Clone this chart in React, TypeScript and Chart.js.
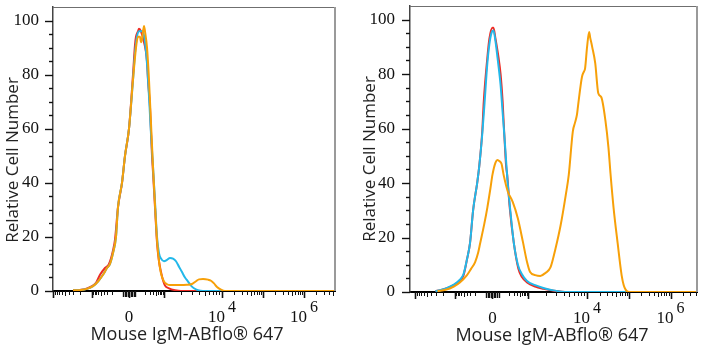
import React, { useEffect, useRef } from "react";
import { Chart, registerables } from "chart.js";

Chart.register(...registerables);

// ---- axis description (display units of the biexponential axis; 0 = zero) ----
const Y_LABEL_VALUES = [0, 20, 40, 60, 80, 100];
const Y_MINOR_VALUES = [5, 10, 15, 25, 30, 35, 45, 50, 55, 65, 70, 75, 85, 90, 95];
const X_MAJOR_TICKS = [-76, -37, 0, 35, 93, 134, 175];
const X_DECADE_FROM = [-37, -8, 8, 35, 93, 134, 175];
const X_DECADE_TO = [-76, -37, 35, 93, 134, 175, 216];
const X_LINEAR_BLOCK = [-6, -4.5, -3, -1.5, 1.5, 3, 4.5, 6];
const X_LABEL_POS = [0, 93, 175];
const X_LABEL_BASE = ["0", "10", "10"];
const X_LABEL_EXP = ["", "4", "6"];

const X_TITLE = "Mouse IgM-ABflo® 647";
const Y_TITLE = "Relative Cell Number";

// ---- left panel series: [axis position, relative count] ----
const LEFT_RED: [number, number][] = [
  [-56, 0.2], [-49, 0.4], [-44, 0.7], [-38, 1.6], [-33, 3], [-29, 6], [-24, 8.5], [-20, 10],
  [-16, 15], [-14, 19], [-11, 31], [-7, 40], [-4, 50], [0, 60], [4, 80], [6, 91], [7, 94],
  [9, 96], [10, 97], [12, 96], [15, 92], [18, 85], [19, 78], [21, 68], [23, 50], [24, 44],
  [26, 31], [28, 18], [30, 11], [32, 7], [34, 4], [36, 2], [40, 1], [46, 0.3], [52, 0], [206, 0],
];
const LEFT_CYAN: [number, number][] = [
  [-56, 0.3], [-48, 0.4], [-42, 0.8], [-36, 1.8], [-31, 3.5], [-26, 6], [-22, 8.5], [-19, 10],
  [-16, 14], [-13, 20], [-11, 31], [-7, 40], [-4, 50], [0, 60], [4, 78], [6, 88], [8, 94],
  [10, 96], [12, 96], [14, 96], [16, 92], [18, 84], [20, 72], [22, 58], [24, 46], [26, 33],
  [28, 20], [30, 14], [32, 12], [35, 11], [38, 11.5], [41, 12.2], [44, 12], [47, 11], [50, 9],
  [53, 7], [56, 5], [59, 3.5], [62, 2], [65, 1], [69, 0.3], [74, 0], [206, 0],
];
const LEFT_ORANGE: [number, number][] = [
  [-56, 0.3], [-48, 0.4], [-42, 0.8], [-36, 1.8], [-31, 3.5], [-26, 6], [-22, 8.5], [-19, 10],
  [-16, 14], [-13, 20], [-11, 31], [-7, 40], [-4, 50], [0, 60], [4, 78], [7, 90], [9, 94],
  [11, 94], [12, 92], [13, 93], [15, 98], [16, 96], [18, 90], [20, 78], [22, 62], [24, 46],
  [26, 32], [28, 19], [30, 11], [32, 6.5], [35, 3.5], [38, 2.5], [41, 2.2], [50, 2.2],
  [58, 2.3], [63, 2.6], [67, 3.6], [70, 4.3], [74, 4.4], [79, 4.2], [82, 3.8], [85, 2.8],
  [88, 1.5], [92, 0.5], [96, 0], [206, 0],
];

// ---- right panel series ----
const RIGHT_RED: [number, number][] = [
  [-56, 0.3], [-51, 0.7], [-44, 1.5], [-38, 2.5], [-32, 4.2], [-28.5, 6], [-25, 12], [-22, 18],
  [-19, 30], [-15, 40], [-13, 46], [-10, 59], [-8.5, 70], [-5, 86], [-3, 93], [0, 97], [1, 97],
  [3, 93], [6, 86], [8, 80], [10, 70], [11.5, 59], [13.5, 46], [14.5, 43], [17, 31], [21, 18],
  [25.5, 8.5], [29, 5.5], [34, 3.5], [42, 2], [50, 1.2], [60, 0.5], [74, 0], [201, 0],
];
const RIGHT_CYAN: [number, number][] = [
  [-56, 0.3], [-50, 0.8], [-44, 1.6], [-38, 2.7], [-32, 4.5], [-28.5, 6.5], [-25, 12], [-22, 18],
  [-19, 30], [-15, 40], [-13, 46], [-10, 58], [-8, 68], [-5, 84], [-3, 91], [-1, 95], [1, 96],
  [3, 92], [5, 86], [8, 76], [10, 66], [12, 56], [14, 45], [15, 40], [17, 32], [21, 18],
  [25, 10], [29, 6.5], [34, 4], [42, 2.5], [50, 1.5], [60, 0.6], [74, 0], [201, 0],
];
const RIGHT_ORANGE: [number, number][] = [
  [-54, 0.3], [-46, 0.8], [-38, 2], [-32, 3.5], [-25, 6.2], [-21, 8.5], [-17, 11], [-14, 14.5],
  [-12, 18], [-8, 25], [-5, 31], [-2, 38], [0, 43], [3, 47.5], [5, 48.5], [7, 48], [9, 47],
  [11, 43], [15, 37], [20, 33], [25, 27], [30, 18.3], [34, 11], [37, 7.3], [42, 6.2], [47, 5.9],
  [52, 7], [57, 9], [62, 16], [67, 24.5], [72, 35.5], [75, 43], [79, 59], [81, 62], [83, 65],
  [84, 68], [88, 79], [90, 81], [91, 82], [93, 90], [95, 95.5], [96, 93.5], [98, 90], [101, 84],
  [104, 73], [107, 71.5], [111, 63], [114, 53], [116, 43.5], [119, 31], [123, 18], [127, 6],
  [129, 2.5], [131, 0.8], [134, 0], [201, 0],
];

const RED = "#ee2b24";
const CYAN = "#22b8ea";
const ORANGE = "#f7a008";

const SERIF = "'Liberation Serif', 'Times New Roman', 'DejaVu Serif', serif";
const SANS = "'Open Sans', 'Noto Sans', sans-serif";

function buildXTicks(min: number, max: number) {
  const out: { v: number; len: number; w: number }[] = [];
  X_MAJOR_TICKS.forEach((v) => out.push({ v, len: 7, w: 1.6 }));
  X_LINEAR_BLOCK.forEach((v) => out.push({ v, len: 6, w: 1.4 }));
  X_DECADE_FROM.forEach((from, i) => {
    const to = X_DECADE_TO[i];
    for (let k = 2; k <= 9; k++) {
      out.push({ v: from + (to - from) * Math.log10(k), len: k === 5 ? 5 : 4, w: 1 });
    }
  });
  return out.filter((t) => t.v >= min && t.v <= max);
}

const axisDecor = {
  id: "axisDecor",
  afterDraw(chart: any, _args: any, opts: any) {
    const { ctx, chartArea: a, scales } = chart;
    const x = scales.x;
    const y = scales.y;
    ctx.save();
    // frame: top and right
    ctx.strokeStyle = "#6f6f6f";
    ctx.lineWidth = 1;
    ctx.beginPath();
    ctx.moveTo(a.left, a.top + 0.5);
    ctx.lineTo(a.right, a.top + 0.5);
    ctx.stroke();
    ctx.strokeStyle = "#9a9a9a";
    ctx.lineWidth = 2;
    ctx.beginPath();
    ctx.moveTo(a.right, a.top);
    ctx.lineTo(a.right, a.bottom);
    ctx.stroke();

    // x tick marks
    ctx.strokeStyle = "#111";
    for (const t of buildXTicks(x.min, x.max)) {
      const px = Math.round(x.getPixelForValue(t.v)) + 0.5;
      ctx.lineWidth = t.w;
      ctx.beginPath();
      ctx.moveTo(px, a.bottom);
      ctx.lineTo(px, a.bottom + t.len);
      ctx.stroke();
    }
    // y tick marks
    const yTicks = [
      ...Y_LABEL_VALUES.map((v) => ({ v, len: 8 })),
      ...Y_MINOR_VALUES.map((v) => ({ v, len: 4 })),
    ];
    ctx.lineWidth = 1.4;
    for (const t of yTicks) {
      const py = Math.round(y.getPixelForValue(t.v)) + 0.5;
      ctx.beginPath();
      ctx.moveTo(a.left, py);
      ctx.lineTo(a.left - t.len, py);
      ctx.stroke();
    }

    // x labels with superscript exponent
    ctx.fillStyle = "#111";
    ctx.textBaseline = "alphabetic";
    ctx.textAlign = "left";
    const baseFont = `17px ${SERIF}`;
    const expFont = `16px ${SERIF}`;
    X_LABEL_POS.forEach((v, i) => {
      const cx = x.getPixelForValue(v);
      ctx.font = baseFont;
      const wb = ctx.measureText(X_LABEL_BASE[i]).width;
      ctx.font = expFont;
      const we = X_LABEL_EXP[i] ? ctx.measureText(X_LABEL_EXP[i]).width + 3 : 0;
      const start = cx - (wb + we) / 2;
      ctx.font = baseFont;
      ctx.fillText(X_LABEL_BASE[i], start, a.bottom + 31);
      if (X_LABEL_EXP[i]) {
        ctx.font = expFont;
        ctx.fillText(X_LABEL_EXP[i], start + wb + 3, a.bottom + 21);
      }
    });

    // axis titles
    ctx.fillStyle = "#222";
    ctx.textAlign = "center";
    ctx.textBaseline = "alphabetic";
    ctx.font = `18px ${SANS}`;
    ctx.fillText(X_TITLE, (a.left + a.right) / 2 + opts.xTitleShift, opts.xTitleBaseline);
    ctx.save();
    ctx.translate(opts.yTitleBaselineX, (a.top + a.bottom) / 2 + opts.yTitleShift);
    ctx.rotate(-Math.PI / 2);
    ctx.font = `17px ${SANS}`;
    ctx.fillText(Y_TITLE, 0, 0);
    ctx.restore();

    ctx.restore();
  },
};

type PanelSpec = {
  red: [number, number][];
  cyan: [number, number][];
  orange: [number, number][];
  xMin: number;
  xMax: number;
  padTop: number;
  padRight: number;
  xAxisH: number;
  yAxisW: number;
  yPad: number;
  decor: { xTitleShift: number; xTitleBaseline: number; yTitleBaselineX: number; yTitleShift: number };
};

function ds(label: string, pts: [number, number][], color: string) {
  return {
    label,
    data: pts.map(([x, y]) => ({ x, y })),
    borderColor: color,
    borderWidth: 2,
    pointRadius: 0,
    fill: false,
    cubicInterpolationMode: "monotone" as const,
  };
}

function Panel({ spec, width }: { spec: PanelSpec; width: number }) {
  const ref = useRef<HTMLCanvasElement | null>(null);
  useEffect(() => {
    if (!ref.current) return;
    const chart = new Chart(ref.current, {
      type: "line",
      data: {
        datasets: [
          ds("orange", spec.orange, ORANGE),
          ds("cyan", spec.cyan, CYAN),
          ds("red", spec.red, RED),
        ],
      },
      options: {
        animation: false,
        responsive: false,
        maintainAspectRatio: false,
        events: [],
        layout: { padding: { left: 0, right: spec.padRight, top: spec.padTop, bottom: 0 } },
        plugins: { legend: { display: false }, tooltip: { enabled: false }, axisDecor: spec.decor },
        scales: {
          x: {
            type: "linear",
            min: spec.xMin,
            max: spec.xMax,
            ticks: { display: false },
            grid: { display: false, drawTicks: false },
            border: { color: "#000", width: 2 },
            title: { display: false },
            afterFit(s: any) {
              s.height = spec.xAxisH;
              s.paddingLeft = 0;
              s.paddingRight = 0;
            },
          },
          y: {
            type: "linear",
            min: 0,
            max: 105,
            afterBuildTicks(s: any) {
              s.ticks = Y_LABEL_VALUES.map((v) => ({ value: v }));
            },
            ticks: {
              padding: spec.yPad,
              color: "#111",
              font: { family: SERIF, size: 17 },
            },
            grid: { display: false, drawTicks: false },
            border: { color: "#444", width: 1.5 },
            title: { display: false },
            afterFit(s: any) {
              s.width = spec.yAxisW;
              s.paddingTop = 0;
              s.paddingBottom = 0;
            },
          },
        },
      } as any,
      plugins: [axisDecor],
    });
    return () => chart.destroy();
  }, [spec]);
  return <canvas ref={ref} width={width} height={350} style={{ display: "block", width, height: 350 }} />;
}

const LEFT_SPEC: PanelSpec = {
  red: LEFT_RED, cyan: LEFT_CYAN, orange: LEFT_ORANGE,
  xMin: -76, xMax: 206, padTop: 7, padRight: 16, xAxisH: 59, yAxisW: 53, yPad: 14,
  decor: { xTitleShift: -7, xTitleBaseline: 340, yTitleBaselineX: 18, yTitleShift: 11 },
};
const RIGHT_SPEC: PanelSpec = {
  red: RIGHT_RED, cyan: RIGHT_CYAN, orange: RIGHT_ORANGE,
  xMin: -81, xMax: 201, padTop: 6, padRight: 6, xAxisH: 58, yAxisW: 59, yPad: 15,
  decor: { xTitleShift: -1.5, xTitleBaseline: 341, yTitleBaselineX: 24, yTitleShift: 10 },
};

export default function App() {
  return (
    <div style={{ position: "fixed", left: 0, top: 0, width: 703, height: 350, background: "#fff" }}>
      <div style={{ position: "absolute", left: 0, top: 0 }}>
        <Panel spec={LEFT_SPEC} width={351} />
      </div>
      <div style={{ position: "absolute", left: 351, top: 0 }}>
        <Panel spec={RIGHT_SPEC} width={352} />
      </div>
    </div>
  );
}
